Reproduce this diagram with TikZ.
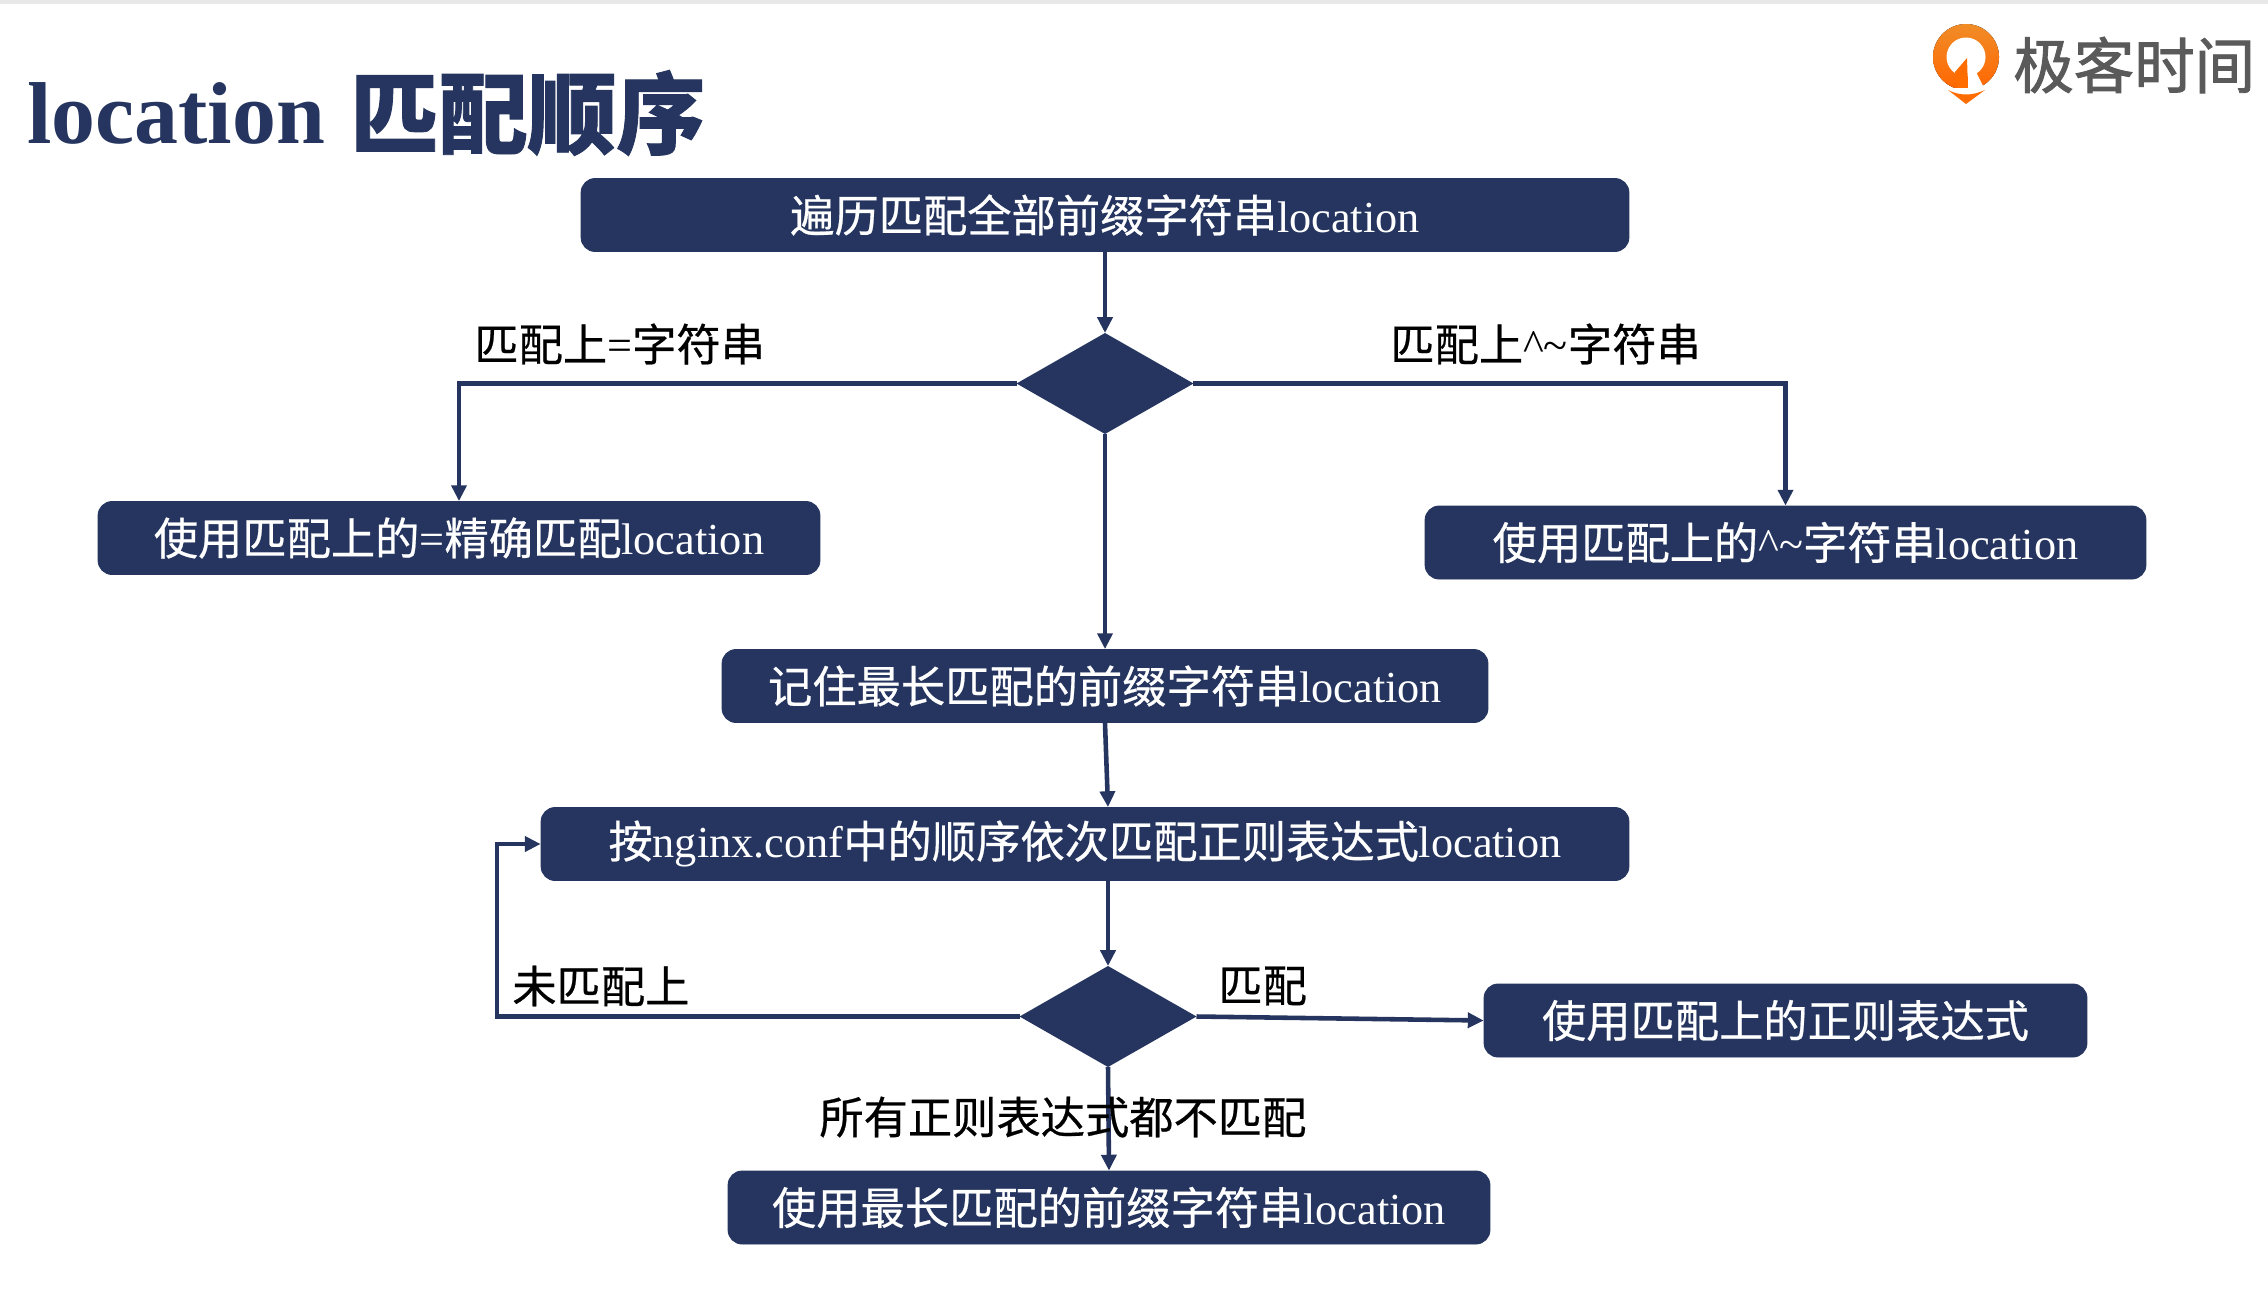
\documentclass[tikz,border=0pt]{standalone}
\usepackage{fontspec}
\usetikzlibrary{arrows.meta,shapes.geometric}
\setmainfont{Liberation Serif}
\newfontfamily\cjk[FakeBold=0.5]{Noto Sans CJK SC}
\newfontfamily\cjktitle[BoldFeatures={FakeBold=1}]{Noto Sans CJK SC}
\newfontfamily\cjklogo[FakeBold=1.5]{Noto Sans CJK SC}
\definecolor{navy}{HTML}{25355F}
\definecolor{logogray}{HTML}{5A5A5A}
\tikzset{
  flowbox/.style={draw=navy,fill=navy,rounded corners=8pt,line width=0.5pt,text=white,
    minimum height=1.46cm,inner sep=0pt,font=\fontsize{25.2}{30}\selectfont},
  decide/.style={diamond,fill=navy,inner sep=0pt,outer sep=0pt,minimum width=3.54cm,minimum height=2.02cm},
  flow/.style={draw=navy,line width=2.6pt,-{Triangle[length=9pt,width=8.5pt]}},
  plainlabel/.style={text=black,inner sep=0pt,anchor=west,font=\fontsize{25.2}{30}\selectfont},
}
\begin{document}
\begin{tikzpicture}[x=0.02cm,y=-0.02cm]
\path[use as bounding box,fill=white] (0,0) rectangle (2268,1302);
\fill[black!9] (0,0) rectangle (2268,4);
% title
\node[anchor=west,inner sep=0pt,text=navy,font=\fontsize{50}{58}\selectfont\bfseries] (title) at (27,113) {location};
\node[anchor=west,inner sep=0pt,text=navy,font=\fontsize{50.5}{58}\selectfont\cjktitle\bfseries] (titlecn) at (350,113) {匹配顺序};
% logo
\fill[top color=orange!75!brown!90,bottom color=orange!80!red] (1966,57) circle (33);
\fill[white] (1966,57) circle (19.5);
\fill[white] (1968,60) -- (1968,93) -- (1985,90) -- (1976,72) -- cycle;
\fill[orange!85!red] (1955,72) -- (1967,58) -- (1968,90) -- (1958,90) -- cycle;
\fill[white] (1945,88) -- (1990,88) -- (1990,92) -- (1945,92) -- cycle;
\fill[orange!85!red] (1948,90) .. controls (1960,96) and (1972,96) .. (1985,90) -- (1966,104) -- cycle;
\node[anchor=west,inner sep=0pt,text=logogray,font=\fontsize{34.4}{40}\selectfont\cjklogo] (logotext) at (2013,65) {极客时间};
% boxes
\node[flowbox,minimum width=20.96cm] (b1) at (1105,215) {{\cjk 遍历匹配全部前缀字符串}location};
\node[decide] (d1) at (1105,383.5) {};
\node[flowbox,minimum width=14.44cm] (eq) at (459,538) {{\cjk 使用匹配上的}={\cjk 精确匹配}location};
\node[flowbox,minimum width=14.42cm] (pre) at (1785.5,542.5) {{\cjk 使用匹配上的}\^{}\textasciitilde{\cjk 字符串}location};
\node[flowbox,minimum width=15.32cm] (mem) at (1105,686) {{\cjk 记住最长匹配的前缀字符串}location};
\node[flowbox,minimum width=21.76cm] (reg) at (1085,844) {{\cjk 按}nginx.conf{\cjk 中的顺序依次匹配正则表达式}location};
\node[decide] (d2) at (1108,1016.5) {};
\node[flowbox,minimum width=12.06cm] (use) at (1785.5,1020.5) {\cjk 使用匹配上的正则表达式};
\node[flowbox,minimum width=15.24cm] (last) at (1109,1207.5) {{\cjk 使用最长匹配的前缀字符串}location};
% connectors
\draw[flow] (b1) -- (d1);
\draw[flow] (d1.west) -| (eq.north);
\draw[flow] (d1.east) -| (pre.north);
\draw[flow] (d1) -- (mem);
\draw[flow] (mem.south) -- (reg.north -| d2.north);
\draw[flow] (reg.south -| d2.north) -- (d2.north);
\coordinate (loop) at (497,1016.5);
\draw[flow] (d2.west) -- (loop) |- (reg.west);
\draw[flow] (d2.east) -- (use.west);
\draw[flow] (d2.south) -- (last.north);
% labels
\node[plainlabel] (l1) at (474,344) {{\cjk 匹配上}={\cjk 字符串}};
\node[plainlabel] (l2) at (1390,344) {{\cjk 匹配上}\^{}\textasciitilde{\cjk 字符串}};
\node[plainlabel] (l3) at (512,986) {\cjk 未匹配上};
\node[plainlabel] (l4) at (1218,986) {\cjk 匹配};
\node[plainlabel] (l5) at (819,1117) {\cjk 所有正则表达式都不匹配};
\end{tikzpicture}
\end{document}
